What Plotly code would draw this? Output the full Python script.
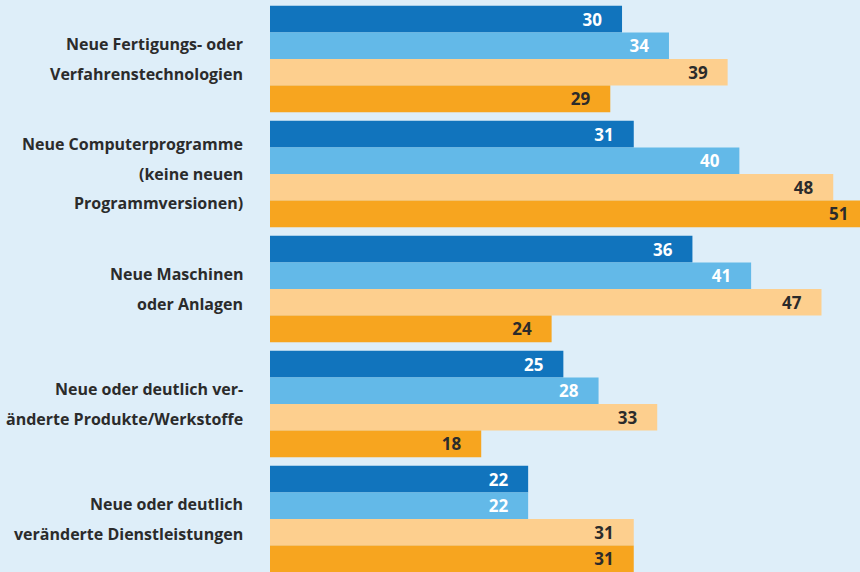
import plotly.graph_objects as go

categories = [
    "Neue Fertigungs- oder\nVerfahrenstechnologien",
    "Neue Computerprogramme\n(keine neuen\nProgrammversionen)",
    "Neue Maschinen\noder Anlagen",
    "Neue oder deutlich ver-\nänderte Produkte/Werkstoffe",
    "Neue oder deutlich\nveränderte Dienstleistungen",
]
series_names = ["Reihe 1", "Reihe 2", "Reihe 3", "Reihe 4"]
series_values = [
    [30, 31, 36, 25, 22],
    [34, 40, 41, 28, 22],
    [39, 48, 47, 33, 31],
    [29, 51, 24, 18, 31],
]
colors = ["#1174bd", "#63b9e8", "#fdcf8e", "#f7a51f"]
text_colors = ["#ffffff", "#ffffff", "#2b2b2b", "#2b2b2b"]

FONT = "Open Sans"
fig = go.Figure()
for name, vals, col, tcol in zip(series_names, series_values, colors, text_colors):
    fig.add_trace(go.Bar(
        y=list(range(len(categories))), x=vals, name=name, orientation="h",
        marker=dict(color=col, line=dict(width=0)),
        texttemplate="%{x}\u2003", textposition="inside", insidetextanchor="end",
        textangle=0, constraintext="none",
        insidetextfont=dict(family=FONT, size=17, color=tcol, weight="bold"),
        hoverinfo="skip",
    ))

annotations = []
LINE = 29.5
for i, cat in enumerate(categories):
    lines = cat.split("\n")
    n = len(lines)
    for j, line in enumerate(lines):
        annotations.append(dict(
            xref="paper", yref="y", x=0, y=i, text=line, showarrow=False,
            xanchor="right", yanchor="middle", xshift=-25,
            yshift=((n - 1) / 2 - j) * LINE,
            font=dict(family=FONT, size=16, color="#2b2b2b", weight="bold"),
        ))

fig.update_layout(
    width=860, height=572,
    margin=dict(l=270, r=0, t=0, b=0),
    paper_bgcolor="#deeef9", plot_bgcolor="#deeef9",
    barmode="group", bargap=0.075, bargroupgap=0,
    showlegend=False,
    xaxis=dict(range=[0, 50.28], visible=False, fixedrange=True),
    yaxis=dict(range=[4.461, -0.513], visible=False, fixedrange=True),
    annotations=annotations,
)
fig.write_html(
    "out.html",
    config={"displayModeBar": False},
    post_script="document.body.style.margin='0';document.body.style.overflow='hidden';",
)
